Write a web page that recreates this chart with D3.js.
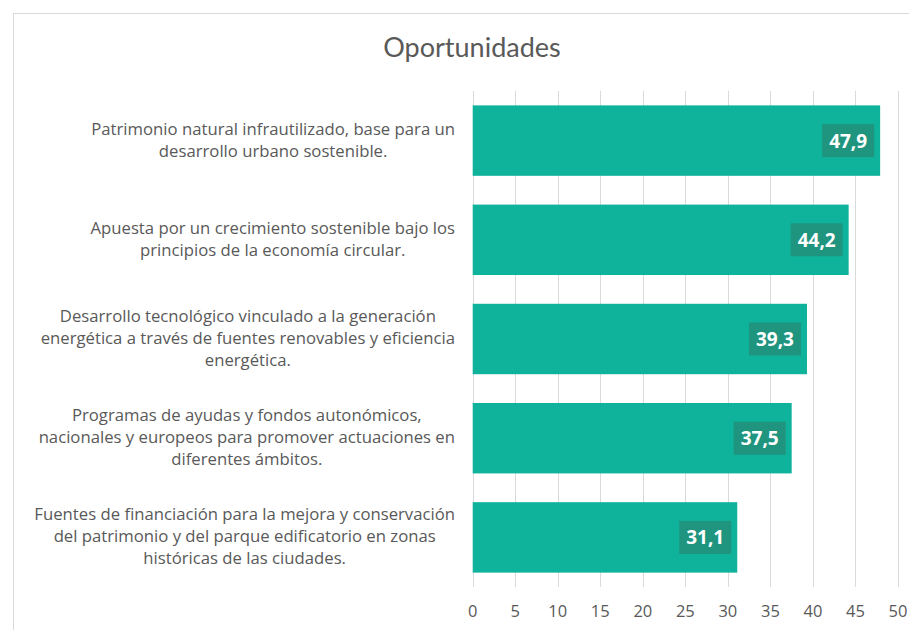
<!DOCTYPE html>
<html lang="es">
<head>
<meta charset="utf-8">
<title>Oportunidades</title>
<script src="https://cdn.jsdelivr.net/npm/d3@7"></script>
<style>
  body { margin: 0; background: #fff; }
  text { font-family: "Open Sans", Lato, sans-serif; }
</style>
</head>
<body>
<div id="chart"></div>
<script>
  var categories = [
    ["Patrimonio natural infrautilizado, base para un", "desarrollo urbano sostenible."],
    ["Apuesta por un crecimiento sostenible bajo los", "principios de la economía circular."],
    ["Desarrollo tecnológico vinculado a la generación", "energética a través de fuentes renovables y eficiencia", "energética."],
    ["Programas de ayudas y fondos autonómicos,", "nacionales y europeos para promover actuaciones en", "diferentes ámbitos."],
    ["Fuentes de financiación para la mejora y conservación", "del patrimonio y del parque edificatorio en zonas", "históricas de las ciudades."]
  ];
  var values = [47.9, 44.2, 39.3, 37.5, 31.1];
  var ticks = [0, 5, 10, 15, 20, 25, 30, 35, 40, 45, 50];

  var width = 909, height = 630;
  var plotLeft = 472.7, plotRight = 898, plotTop = 91, plotBottom = 587;

  var svg = d3.select("#chart").append("svg")
      .attr("width", width)
      .attr("height", height);

  // chart frame
  svg.append("rect")
      .attr("x", 13.5).attr("y", 13.5)
      .attr("width", 920).attr("height", 640)
      .attr("fill", "none")
      .attr("stroke", "#d9d9d9");

  svg.append("text")
      .attr("x", 472).attr("y", 57)
      .attr("text-anchor", "middle")
      .attr("fill", "#595959")
      .style("font-size", "27px")
      .style("font-family", "Lato, sans-serif")
      .text("Oportunidades");

  var x = d3.scaleLinear().domain([0, 50]).range([plotLeft, plotRight]);
  var y = d3.scaleBand().domain(d3.range(values.length)).range([plotTop, plotBottom]).paddingInner(0.29).paddingOuter(0.145);

  // gridlines
  svg.append("g").selectAll("line")
      .data(ticks)
    .enter().append("line")
      .attr("x1", function(d) { return Math.round(x(d)) + 0.5; })
      .attr("x2", function(d) { return Math.round(x(d)) + 0.5; })
      .attr("y1", plotTop)
      .attr("y2", plotBottom)
      .attr("stroke", "#d9d9d9");

  // tick labels
  svg.append("g").selectAll("text")
      .data(ticks)
    .enter().append("text")
      .attr("x", function(d) { return x(d); })
      .attr("y", 617)
      .attr("text-anchor", "middle")
      .attr("fill", "#595959")
      .style("font-size", "16.5px")
      .text(function(d) { return d; });

  // bars
  svg.append("g").selectAll("rect")
      .data(values)
    .enter().append("rect")
      .attr("x", x(0))
      .attr("y", function(d, i) { return y(i); })
      .attr("width", function(d) { return x(d) - x(0); })
      .attr("height", y.bandwidth())
      .attr("fill", "#0fb39b");

  // value labels with darker box
  var lab = svg.append("g").selectAll("g")
      .data(values)
    .enter().append("g");

  lab.append("rect")
      .attr("x", function(d) { return x(d) - 58; })
      .attr("y", function(d, i) { return y(i) + y.bandwidth() / 2 - 16.5; })
      .attr("width", 52)
      .attr("height", 33)
      .attr("fill", "#1f957f");

  lab.append("text")
      .attr("x", function(d) { return x(d) - 32; })
      .attr("y", function(d, i) { return y(i) + y.bandwidth() / 2 + 7; })
      .attr("text-anchor", "middle")
      .attr("fill", "#fff")
      .style("font-size", "19px")
      .style("font-weight", "bold")
      .text(function(d) { return d.toFixed(1).replace(".", ","); });

  // category labels, block right-aligned, lines centred
  var lineH = 22, labelRight = 455, labelSize = 15;
  var catText = [];
  categories.forEach(function(lines, i) {
    var cy = y(i) + y.bandwidth() / 2;
    var t = svg.append("g").selectAll("text")
        .data(lines)
      .enter().append("text")
        .attr("y", function(d, j) { return cy + (j - (lines.length - 1) / 2) * lineH + 5; })
        .attr("text-anchor", "middle")
        .attr("fill", "#595959")
        .style("font-size", labelSize + "px")
        .text(function(d) { return d; });
    catText.push(t);
  });
  // widest line in the reference is about 421px wide
  var widest = d3.max(catText, function(t) { return d3.max(t.nodes(), function(n) { return n.getComputedTextLength(); }); });
  labelSize = labelSize * 421 / widest;
  catText.forEach(function(t) {
    t.style("font-size", labelSize + "px");
    var maxW = d3.max(t.nodes(), function(n) { return n.getComputedTextLength(); });
    t.attr("x", labelRight - maxW / 2);
  });
</script>
</body>
</html>
